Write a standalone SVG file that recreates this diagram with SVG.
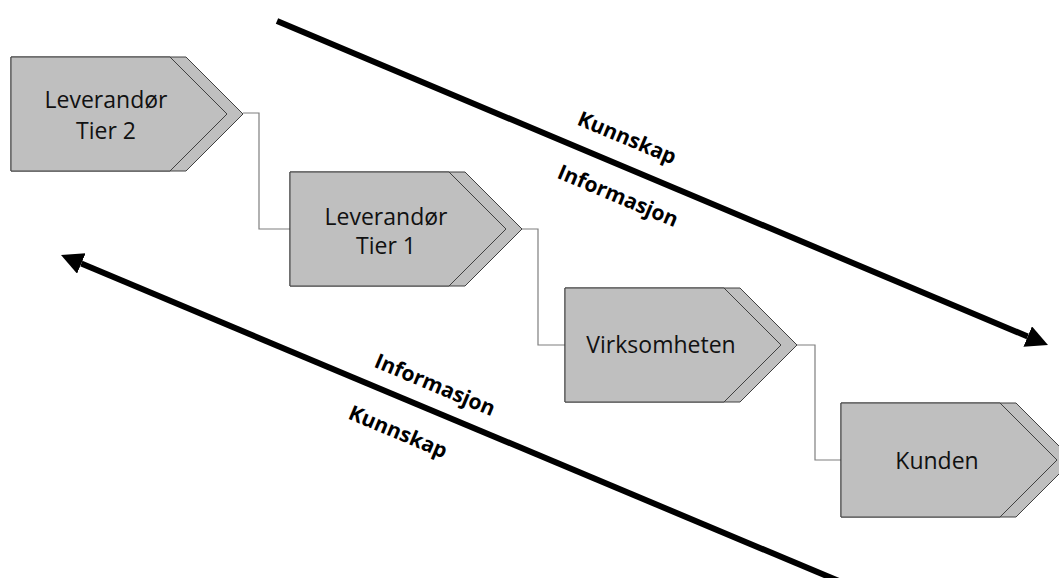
<svg xmlns="http://www.w3.org/2000/svg" width="1059" height="578" viewBox="0 0 1059 578">
  <style>
    .back { fill: #BFBFBF; stroke: #404040; stroke-width: 1; }
    .front { fill: #BFBFBF; stroke: #404040; stroke-width: 1; }
    .ntext { font-family: "Open Sans", "Noto Sans", sans-serif; font-size: 23px; fill: #111; text-anchor: middle; }
    .conn { fill: none; stroke: #7F7F7F; stroke-width: 1.2; }
    .big { fill: none; stroke: #000; stroke-width: 6; }
    .lbl { font-family: "Open Sans", "Noto Sans", sans-serif; font-size: 21px; font-weight: bold; fill: #000; text-anchor: middle; }
  </style>
  <defs>
    <path id="shapeBack" d="M0,0 H175 L232,57 L175,114 H0 Z"/>
    <path id="shapeFront" d="M0,0 H159 L216,57 L159,114 H0 Z"/>
    <marker id="head" markerUnits="userSpaceOnUse" markerWidth="24" markerHeight="24" refX="0" refY="11" orient="auto">
      <path d="M0,0 L22,11 L0,22 Z" fill="#000"/>
    </marker>
  </defs>
  <rect width="1059" height="578" fill="#fff"/>

  <g id="connectors">
    <path class="conn" d="M243,113 H259 V229 H290"/>
    <path class="conn" d="M522,229 H538 V345 H565"/>
    <path class="conn" d="M797,345 H815 V460 H841"/>
    <line class="big" x1="277" y1="21" x2="1027.7" y2="336.5" marker-end="url(#head)"/>
    <line class="big" x1="846" y1="584" x2="81.3" y2="263.5" marker-end="url(#head)"/>
  </g>

  <g id="node-tier2" transform="translate(11,57)">
    <use href="#shapeBack" class="back"/>
    <use href="#shapeFront" class="front"/>
    <text class="ntext" x="95" y="51">Leverandør</text>
    <text class="ntext" x="95" y="82">Tier 2</text>
  </g>
  <g id="node-tier1" transform="translate(290,172)">
    <use href="#shapeBack" class="back"/>
    <use href="#shapeFront" class="front"/>
    <text class="ntext" x="96" y="53">Leverandør</text>
    <text class="ntext" x="96" y="82">Tier 1</text>
  </g>
  <g id="node-virksomheten" transform="translate(565,288)">
    <use href="#shapeBack" class="back"/>
    <use href="#shapeFront" class="front"/>
    <text class="ntext" x="96" y="65">Virksomheten</text>
  </g>
  <g id="node-kunden" transform="translate(841,403)">
    <use href="#shapeBack" class="back"/>
    <use href="#shapeFront" class="front"/>
    <text class="ntext" x="96" y="66">Kunden</text>
  </g>

  <g id="labels">
    <text class="lbl" transform="translate(627,138) rotate(22.8)" y="7">Kunnskap</text>
    <text class="lbl" transform="translate(618,196) rotate(22.8)" y="7">Informasjon</text>
    <text class="lbl" transform="translate(435,385) rotate(22.8)" y="7">Informasjon</text>
    <text class="lbl" transform="translate(398,432) rotate(22.8)" y="7">Kunnskap</text>
  </g>
</svg>
